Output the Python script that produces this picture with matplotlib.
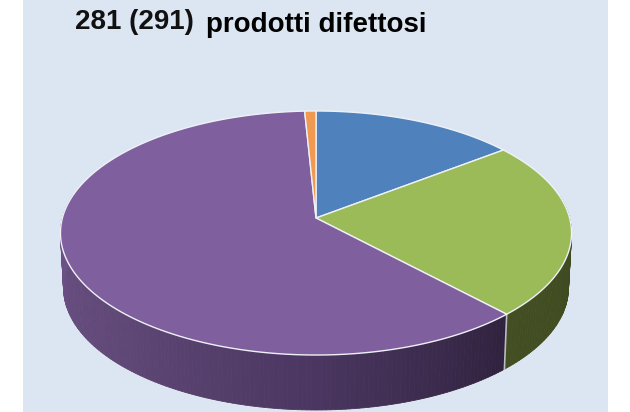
import numpy as np
import matplotlib
matplotlib.use("Agg")
import matplotlib.pyplot as plt
from matplotlib.colors import to_rgb
from matplotlib.patches import Rectangle

# data
categories = ["blu", "verde", "viola", "arancione"]
values = [14.6, 23.4, 61.2, 0.8]
top_colors = ["#4f81bd", "#9bbb59", "#7f5f9e", "#ef9a50"]
side_stops = [
    [("#3a5f8c", 0.0), ("#2a4466", 1.0)],
    [("#434f22", 0.0), ("#3c4720", 1.0)],
    [("#6e5389", 0.0), ("#5f4776", 0.4), ("#4a3660", 0.7), ("#30223e", 1.0)],
    [("#b06a30", 0.0), ("#b06a30", 1.0)],
]
title_a = "281 (291)"
title_b = "prodotti difettosi"

# projection parameters (pixels)
APEX_X, APEX_Y = 316.0, 218.0
A, C, D = 93.35, 0.123, 253.6
DEPTH = 55.0
BOTTOM_SCALE = 0.988


def project(theta, lower=False):
    """theta clockwise from top, radians. Returns pixel x, y of the rim."""
    u, v = np.sin(theta), np.cos(theta)
    w = 1 + C * v
    x = D * u / w
    y = (APEX_Y - A * v) / w
    if lower:
        x = x * BOTTOM_SCALE
        y = y + DEPTH
    return APEX_X + x, y


def grad(stops, t):
    pos = [s[1] for s in stops]
    rgb = np.array([to_rgb(s[0]) for s in stops])
    return tuple(np.interp(t, pos, rgb[:, i]) for i in range(3))


fig = plt.figure(figsize=(6.3, 4.12), dpi=100, facecolor="white")
ax = fig.add_axes([0, 0, 1, 1])
ax.set_xlim(0, 630)
ax.set_ylim(412, 0)
ax.axis("off")
ax.add_patch(Rectangle((23, 0), 585, 412, facecolor="#dce6f2", edgecolor="none", zorder=0))

fractions = np.array(values) / sum(values)
edges = np.concatenate([[0], np.cumsum(fractions)]) * 2 * np.pi

# rim outlines (thin white halo round the solid)
lower_t = np.linspace(np.pi / 2, 3 * np.pi / 2, 200)
lx, ly = project(lower_t, lower=True)
ax.plot(lx, ly, color="#f4f6fa", lw=1.2, zorder=1)

# side wall
for i in range(len(values)):
    t0, t1 = edges[i], edges[i + 1]
    ts = np.linspace(t0, t1, max(int((t1 - t0) * 60), 2) + 1)
    vis = (ts > np.pi * 0.44) & (ts < np.pi * 1.56)
    for a, b, ok in zip(ts[:-1], ts[1:], vis[:-1]):
        if not ok:
            continue
        xa, ya = project(a)
        xb, yb = project(b)
        xc, yc = project(b, lower=True)
        xd, yd = project(a, lower=True)
        # gradient follows the wall from the far end to the near end of the slice
        span0, span1 = max(t0, np.pi * 0.44), min(t1, np.pi * 1.56)
        frac = (span1 - 0.5 * (a + b)) / (span1 - span0)
        col = grad(side_stops[i], frac)
        ax.fill([xa, xb, xc, xd], [ya, yb, yc, yd], color=col, lw=0.6, zorder=2)

# boundary seam on the wall
xa, ya = project(edges[2])
xb, yb = project(edges[2], lower=True)
ax.plot([xa, xb], [ya, yb], color="#b9bcc0", lw=1.2, zorder=3)

# top face
for i in range(len(values)):
    ts = np.linspace(edges[i], edges[i + 1], 200)
    x, y = project(ts)
    ax.fill(np.r_[APEX_X, x], np.r_[APEX_Y, y], facecolor=top_colors[i],
            edgecolor="#eef1f6", lw=1.0, joinstyle="round", zorder=4)

ax.text(75, 28.5, title_a, fontsize=20, fontweight="bold", family="Liberation Sans",
        color="#111111", va="baseline", ha="left", zorder=5)
ax.text(206, 32, title_b, fontsize=20, fontweight="bold", family="Liberation Sans",
        color="#000000", va="baseline", ha="left", zorder=5)

fig.savefig("out.png", dpi=100, facecolor="white")
